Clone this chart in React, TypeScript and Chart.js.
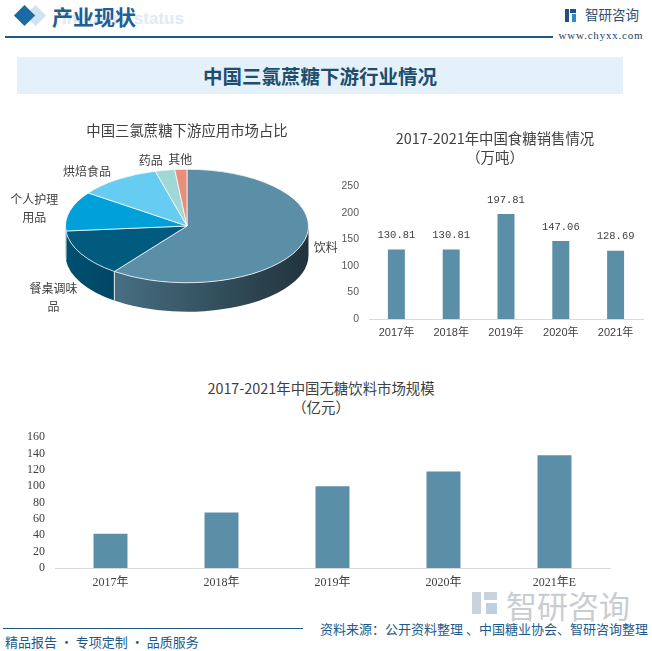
import React, { useEffect, useRef } from "react";
import { Chart, registerables } from "chart.js";
Chart.register(...registerables);

// ---------- data ----------
const pieTitle = "中国三氯蔗糖下游应用市场占比";
const pieLabels = ["饮料", "餐桌调味品", "个人护理用品", "烘焙食品", "药品", "其他"];
const pieValues = [60.2, 13.4, 11.3, 10.9, 2.6, 1.6];
const pieColors = ["#5b8fa7", "#005b7f", "#00a1db", "#67ccf1", "#a0d8d6", "#e88f7b"];

const sugarTitle = ["2017-2021年中国食糖销售情况", "（万吨）"];
const sugarYears = ["2017年", "2018年", "2019年", "2020年", "2021年"];
const sugarValues = [130.81, 130.81, 197.81, 147.06, 128.69];

const drinkTitle = ["2017-2021年中国无糖饮料市场规模", "（亿元）"];
const drinkYears = ["2017年", "2018年", "2019年", "2020年", "2021年E"];
const drinkValues = [42, 68, 100, 118, 138];

const BAR_COLOR = "#5b8fa7";
const CJK = "'Noto Sans CJK SC', sans-serif";

// ---------- helpers ----------
function shade(hex: string, f: number) {
  const n = parseInt(hex.slice(1), 16);
  const r = Math.round(((n >> 16) & 255) * f);
  const g = Math.round(((n >> 8) & 255) * f);
  const b = Math.round((n & 255) * f);
  return `rgb(${r},${g},${b})`;
}
function chunk(s: string, n: number) {
  const out: string[] = [];
  for (let i = 0; i < s.length; i += n) out.push(s.slice(i, i + n));
  return out;
}

const K = 0.467; // vertical squash of the pie
const DEPTH = 29;

const pie3d = {
  id: "pie3d",
  beforeDatasetsDraw(chart: any) {
    const ctx = chart.ctx;
    const meta = chart.getDatasetMeta(0);
    const a0 = meta.data[0];
    const cx = a0.x, cy = a0.y, R = a0.outerRadius;
    const ry = R * K;
    meta.data.forEach((arc: any, i: number) => {
      const a = Math.max(arc.startAngle, 0);
      const b = Math.min(arc.endAngle, Math.PI);
      if (b <= a) return;
      const g = ctx.createLinearGradient(cx - R, 0, cx + R, 0);
      g.addColorStop(0, shade(pieColors[i], 0.88));
      g.addColorStop(1, shade(pieColors[i], 0.36));
      ctx.beginPath();
      ctx.ellipse(cx, cy, R, ry, 0, a, b, false);
      ctx.ellipse(cx, cy + DEPTH, R, ry, 0, b, a, true);
      ctx.closePath();
      ctx.fillStyle = g;
      ctx.fill();
    });
    ctx.save();
    ctx.strokeStyle = "rgba(255,255,255,0.85)";
    ctx.lineWidth = 1;
    meta.data.forEach((arc: any) => {
      const t = arc.endAngle;
      if (t > 0 && t < Math.PI) {
        const x = cx + R * Math.cos(t), y = cy + ry * Math.sin(t);
        ctx.beginPath();
        ctx.moveTo(x, y);
        ctx.lineTo(x, y + DEPTH);
        ctx.stroke();
      }
    });
    ctx.restore();
    ctx.save();
    ctx.translate(cx, cy);
    ctx.scale(1, K);
    ctx.translate(-cx, -cy);
  },
  afterDatasetsDraw(chart: any) {
    const ctx = chart.ctx;
    ctx.restore();
    const meta = chart.getDatasetMeta(0);
    const labels = chart.data.labels as string[];
    ctx.save();
    ctx.font = `12px ${CJK}`;
    ctx.fillStyle = "#404040";
    ctx.textBaseline = "middle";
    ctx.textAlign = "center";
    meta.data.forEach((arc: any, i: number) => {
      const cx = arc.x, cy = arc.y, R = arc.outerRadius, ry = R * K;
      const mid = (arc.startAngle + arc.endAngle) / 2;
      const nx = Math.cos(mid), ny = Math.sin(mid);
      const low = ny > 0.45;
      let lx = cx + (R + (low ? 4 : 12)) * nx;
      let ly = cy + (ry + 10) * ny + (low ? DEPTH + 10 : 0);
      const lines = chunk(labels[i], 4);
      const w = Math.max(...lines.map((l) => ctx.measureText(l).width));
      let centerX = lx;
      if (nx > 0.1) centerX = lx + w / 2;
      else if (nx < -0.1) centerX = lx - w / 2;
      const lh = 18;
      lines.forEach((l, j) => {
        ctx.fillText(l, centerX, ly + (j - (lines.length - 1) / 2) * lh);
      });
    });
    ctx.restore();
  },
};

const sugarLabelPlugin = {
  id: "sugarLabels",
  afterDatasetsDraw(chart: any) {
    const ctx = chart.ctx;
    const meta = chart.getDatasetMeta(0);
    ctx.save();
    ctx.font = "10.5px 'Liberation Mono', monospace";
    ctx.fillStyle = "#404040";
    ctx.textAlign = "center";
    ctx.textBaseline = "middle";
    meta.data.forEach((bar: any, i: number) => {
      ctx.fillText(sugarValues[i].toFixed(2), bar.x, bar.y - 14);
    });
    ctx.restore();
  },
};

function barConfig(
  labels: string[],
  values: number[],
  max: number,
  step: number,
  barPct: number,
  padding: any,
  yWidth: number,
  xHeight: number,
  yFont: any,
  yColor: string,
  xFont: any,
  xPad: number,
  plugins: any[]
): any {
  return {
    type: "bar",
    data: {
      labels,
      datasets: [
        {
          data: values,
          backgroundColor: BAR_COLOR,
          barPercentage: barPct,
          categoryPercentage: 1,
        },
      ],
    },
    options: {
      animation: false,
      responsive: false,
      events: [],
      layout: { padding },
      plugins: { legend: { display: false }, tooltip: { enabled: false } },
      scales: {
        x: {
          grid: { display: false, drawTicks: false },
          border: { display: true, color: "#d9d9d9", width: 1 },
          ticks: { padding: xPad, color: "#404040", font: xFont, maxRotation: 0, autoSkip: false },
          afterFit: (a: any) => {
            a.height = xHeight;
          },
        },
        y: {
          min: 0,
          max,
          grid: { display: false, drawTicks: false },
          border: { display: false },
          ticks: { stepSize: step, padding: 10, color: yColor, font: yFont, autoSkip: false },
          afterFit: (a: any) => {
            a.width = yWidth;
          },
        },
      },
    },
    plugins,
  };
}

const abs = (left: number, top: number, extra: any = {}) => ({
  position: "absolute" as const,
  left,
  top,
  ...extra,
});

function CenterText({ x, y, size, color, text, weight = 400, family = CJK, extra = {} }: any) {
  return (
    <div
      style={{
        position: "absolute",
        left: x,
        top: y,
        transform: "translate(-50%, -50%)",
        whiteSpace: "nowrap",
        fontSize: size,
        lineHeight: 1,
        color,
        fontWeight: weight,
        fontFamily: family,
        ...extra,
      }}
    >
      {text}
    </div>
  );
}

export default function App() {
  const pieRef = useRef<HTMLCanvasElement>(null);
  const sugarRef = useRef<HTMLCanvasElement>(null);
  const drinkRef = useRef<HTMLCanvasElement>(null);

  useEffect(() => {
    const pie = new Chart(pieRef.current as HTMLCanvasElement, {
      type: "pie",
      data: {
        labels: pieLabels,
        datasets: [
          {
            data: pieValues,
            backgroundColor: pieColors,
            borderColor: "#ffffff",
            borderWidth: 1,
            clip: false,
          } as any,
        ],
      },
      options: {
        animation: false,
        responsive: false,
        events: [],
        layout: { padding: { top: 6, bottom: 6, left: 0, right: 0 } },
        plugins: { legend: { display: false }, tooltip: { enabled: false } },
      },
      plugins: [pie3d],
    } as any);

    const sugar = new Chart(
      sugarRef.current as HTMLCanvasElement,
      barConfig(
        sugarYears,
        sugarValues,
        250,
        50,
        0.31,
        { top: 13, right: 9, left: 0, bottom: 0 },
        34,
        31,
        { family: "'Liberation Sans', sans-serif", size: 10.5 },
        "#595959",
        { family: "'Liberation Sans', 'Noto Sans CJK SC', sans-serif", size: 11 },
        7,
        [sugarLabelPlugin]
      )
    );

    const drink = new Chart(
      drinkRef.current as HTMLCanvasElement,
      barConfig(
        drinkYears,
        drinkValues,
        160,
        20,
        0.306,
        { top: 12, right: 42, left: 0, bottom: 0 },
        55,
        32,
        { family: "'Liberation Serif', serif", size: 12 },
        "#404040",
        { family: "'Liberation Serif', 'Noto Sans CJK SC', serif", size: 12 },
        8,
        []
      )
    );

    return () => {
      pie.destroy();
      sugar.destroy();
      drink.destroy();
    };
  }, []);

  return (
    <div
      style={{
        position: "absolute",
        left: 0,
        top: 0,
        width: 652,
        height: 651,
        background: "#ffffff",
        overflow: "hidden",
        fontFamily: CJK,
      }}
    >
      {/* header */}
      <div style={abs(28, 8, { width: 15, height: 15, background: "#cfe3f1", transform: "rotate(45deg)" })} />
      <div style={abs(17, 8, { width: 15, height: 15, background: "#1a6aa6", transform: "rotate(45deg)" })} />
      <div
        style={abs(62, 10, {
          fontSize: 17,
          fontWeight: 700,
          color: "#dfeaf5",
          fontFamily: "'Liberation Sans', sans-serif",
          lineHeight: 1,
          whiteSpace: "nowrap",
        })}
      >
        Industry status
      </div>
      <div
        style={abs(52, 4, {
          fontSize: 21,
          fontWeight: 700,
          color: "#1d6096",
          lineHeight: 1.2,
          whiteSpace: "nowrap",
        })}
      >
        产业现状
      </div>
      <div style={abs(5, 36, { width: 548, height: 1.5, background: "#1f5a85" })} />
      {/* logo */}
      <div style={abs(565, 9, { width: 4, height: 13, background: "#1f4f85" })} />
      <div style={abs(570, 9, { width: 6, height: 4, background: "#1f4f85" })} />
      <div style={abs(572, 14, { width: 4, height: 8, background: "#2a8ad0" })} />
      <CenterText x={612} y={15} size={13.5} color="#2b4d70" text="智研咨询" />
      <CenterText
        x={601}
        y={35}
        size={11}
        color="#1f3f5f"
        text="www.chyxx.com"
        family="'Liberation Serif', serif"
        extra={{ letterSpacing: 0.8 }}
      />

      {/* banner */}
      <div style={abs(17, 57, { width: 606, height: 37, background: "#e5f1fa" })} />
      <CenterText x={320} y={76} size={19.5} weight={700} color="#1d4e6e" text="中国三氯蔗糖下游行业情况" />

      {/* watermark bottom-right */}
      <div style={abs(472, 592, { width: 9, height: 22, background: "#c8d3dd" })} />
      <div style={abs(484, 592, { width: 13, height: 8, background: "#c8d3dd" })} />
      <div style={abs(486, 603, { width: 11, height: 11, background: "#bcd0e2" })} />
      <CenterText x={568} y={604} size={31} color="#c9cdd1" text="智研咨询" />

      {/* pie */}
      <canvas ref={pieRef} width={374} height={256} style={abs(0, 98, { width: 374, height: 256 })} />
      <CenterText x={187} y={130} size={14.4} color="#404040" text={pieTitle} />

      {/* sugar sales */}
      <canvas ref={sugarRef} width={317} height={180} style={abs(335, 170, { width: 317, height: 180 })} />
      <CenterText x={495} y={138} size={14.4} color="#404040" text={sugarTitle[0]} />
      <CenterText x={495} y={157} size={14.4} color="#404040" text={sugarTitle[1]} />

      {/* sugar-free drinks */}
      <canvas ref={drinkRef} width={652} height={180} style={abs(0, 420, { width: 652, height: 180 })} />
      <CenterText x={321} y={388} size={14.4} color="#404040" text={drinkTitle[0]} />
      <CenterText x={321} y={407} size={14.4} color="#404040" text={drinkTitle[1]} />

      {/* footer */}
      <div style={abs(3, 628, { width: 300, height: 1, background: "#1f5a85" })} />
      <div
        style={{
          position: "absolute",
          right: 4,
          top: 621,
          fontSize: 13,
          lineHeight: 1.2,
          color: "#1d5a8a",
          whiteSpace: "nowrap",
        }}
      >
        资料来源：公开资料整理 、中国糖业协会、智研咨询整理
      </div>
      <div
        style={abs(5, 634, {
          fontSize: 13,
          lineHeight: 1.2,
          color: "#1d5a8a",
          whiteSpace: "nowrap",
        })}
      >
        精品报告 · 专项定制 · 品质服务
      </div>
    </div>
  );
}
